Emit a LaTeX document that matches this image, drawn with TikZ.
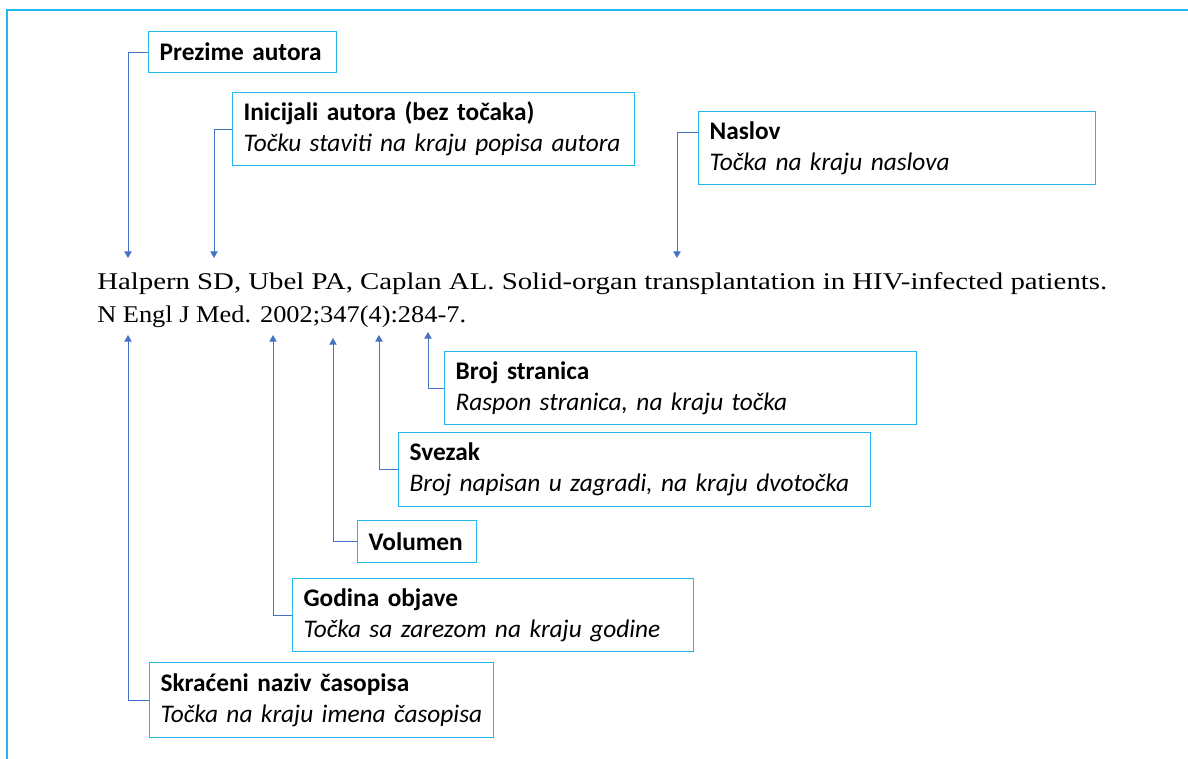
\documentclass[tikz,border=0pt]{standalone}
\usepackage{fontspec}
\setmainfont{Liberation Serif}[FakeStretch=1.2]
\newfontfamily\citetwo{Liberation Serif}[FakeStretch=1.1]
\newfontfamily\boxfont{Carlito}
\usetikzlibrary{arrows.meta}
\newlength\pxu \setlength\pxu{0.75pt}
\definecolor{framec}{HTML}{22B8EE}
\definecolor{boxc}{HTML}{22B8EE}
\definecolor{arrc}{HTML}{4472C4}
\begin{document}
\begin{tikzpicture}[x=0.75pt,y=-0.75pt,
  lbl/.style 2 args={draw=boxc, line width=0.9pt, anchor=north west,
    minimum width=#1\pxu, minimum height=#2\pxu, inner xsep=11\pxu, inner ysep=0pt,
    /utils/exec={\pgfmathsetlengthmacro\boxtw{(#1-22)*0.75pt}}, text width=\boxtw,
    align=left, font=\boxfont\fontsize{19pt}{23.25pt}\selectfont},
  cite/.style={anchor=base west, inner sep=0pt, font=\fontsize{18pt}{24.75pt}\selectfont},
  conn/.style={draw=arrc, line width=0.75pt, -{Triangle[width=5.5pt,length=5pt]}}]
\useasboundingbox (0,0) rectangle (1188,758);
\draw[framec, line width=0.9pt] (1190,10) -- (7,10) -- (7,760);

% citation
\node[cite] (c1) at (97,289) {Halpern SD, Ubel PA, Caplan AL. Solid-organ transplantation in HIV-infected patients.};
\node[cite, font=\citetwo\fontsize{18pt}{24.75pt}\selectfont] (c2) at (97,322) {N Engl J Med. 2002;347(4):284-7.};

% label boxes
\node[lbl={188}{41}] (prez) at (148,31) {\textbf{Prezime autora}};
\node[lbl={402}{73}] (inic) at (232,92) {\textbf{Inicijali autora (bez točaka)}\\\textit{Točku staviti na kraju popisa autora}};
\node[lbl={397}{73}] (nasl) at (698,111) {\textbf{Naslov}\\\textit{Točka na kraju naslova}};
\node[lbl={472}{73}] (broj) at (444,351) {\textbf{Broj stranica}\\\textit{Raspon stranica, na kraju točka}};
\node[lbl={472}{74}] (svez) at (398,432) {\textbf{Svezak}\\\textit{Broj napisan u zagradi, na kraju dvotočka}};
\node[lbl={119}{42}] (volu) at (357,520) {\textbf{Volumen}};
\node[lbl={401}{73}] (godi) at (292,578) {\textbf{Godina objave}\\\textit{Točka sa zarezom na kraju godine}};
\node[lbl={344}{75}] (skra) at (149,662) {\textbf{Skraćeni naziv časopisa}\\\textit{Točka na kraju imena časopisa}};

% arrow tips
\coordinate (tPrez) at (128,258);
\coordinate (tInic) at (214,258);
\coordinate (tNasl) at (677,258);
\coordinate (tSkra) at (128,335);
\coordinate (tGodi) at (273,335);
\coordinate (tVolu) at (333,338);
\coordinate (tSvez) at (379,335);
\coordinate (tBroj) at (428,332);

% connectors
\draw[conn] (prez.west) -| (tPrez);
\draw[conn] (inic.west) -| (tInic);
\draw[conn] ([yshift=-15.75pt]nasl.north west) -| (tNasl);
\draw[conn] (broj.west) -| (tBroj);
\draw[conn] (svez.west) -| (tSvez);
\draw[conn] (volu.west) -| (tVolu);
\draw[conn] (godi.west) -| (tGodi);
\draw[conn] (skra.west) -| (tSkra);
\end{tikzpicture}
\end{document}
